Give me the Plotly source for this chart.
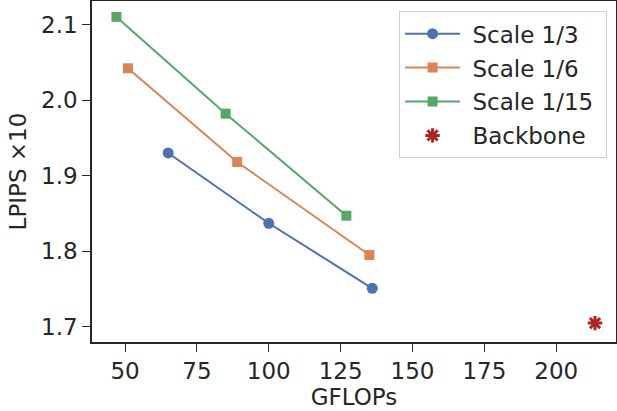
import plotly.graph_objects as go

series_names = ["Scale 1/3", "Scale 1/6", "Scale 1/15"]
series_gflops = [[65, 100, 136], [51, 89, 135], [47, 85, 127]]
series_lpips = [[1.930, 1.837, 1.751], [2.042, 1.918, 1.795], [2.110, 1.982, 1.847]]
series_colors = ["#4C72B0", "#DD8452", "#55A868"]
series_symbols = ["circle", "square", "square"]

backbone_name = "Backbone"
backbone_gflops = [213.5]
backbone_lpips = [1.705]

x_ticks = [50, 75, 100, 125, 150, 175, 200]
y_ticks = [1.7, 1.8, 1.9, 2.0, 2.1]

pad = "\u00a0"

fig = go.Figure()
for i, name in enumerate(series_names):
    fig.add_trace(go.Scatter(
        x=series_gflops[i], y=series_lpips[i], name=pad + name + pad, mode="lines+markers",
        line=dict(color=series_colors[i], width=2),
        marker=dict(symbol=series_symbols[i], size=11 if series_symbols[i] == "circle" else 10,
                    color=series_colors[i]),
        legendgroup=f"g{i}",
    ))
fig.add_trace(go.Scatter(
    x=backbone_gflops, y=backbone_lpips, name=pad + backbone_name + pad, mode="markers",
    marker=dict(symbol="asterisk-open", size=12, color="#B22222",
                line=dict(color="#B22222", width=3)),
    legendgroup="g3",
))

font = dict(family="DejaVu Sans", size=23, color="#262626")
axis_common = dict(
    showgrid=False, zeroline=False, showline=True, mirror=True,
    linecolor="#262626", linewidth=1.5, automargin=False,
    ticks="outside", ticklen=8, tickwidth=1.3, tickcolor="#262626",
    tickfont=font,
)
fig.update_layout(
    width=617, height=411,
    margin=dict(l=92, r=1, t=1, b=69),
    paper_bgcolor="white", plot_bgcolor="white",
    font=font,
    xaxis=dict(range=[38.5, 220.8], tickvals=x_ticks,
               title=dict(text="GFLOPs", font=font, standoff=4), **axis_common),
    yaxis=dict(range=[1.680, 2.131], tickvals=y_ticks, tickformat=".1f",
               title=dict(text="LPIPS ×10", font=font, standoff=8), **axis_common),
    legend=dict(x=0.983, y=0.97, xanchor="right", yanchor="top",
                bgcolor="white", bordercolor="#d0d0d0", borderwidth=1,
                font=dict(family="DejaVu Sans", size=23, color="#262626"),
                tracegroupgap=1, itemwidth=55),
    showlegend=True,
)
fig.write_html("out.html", config={"displayModeBar": False},
               post_script="document.body.style.margin='0';document.body.style.overflow='hidden';")
